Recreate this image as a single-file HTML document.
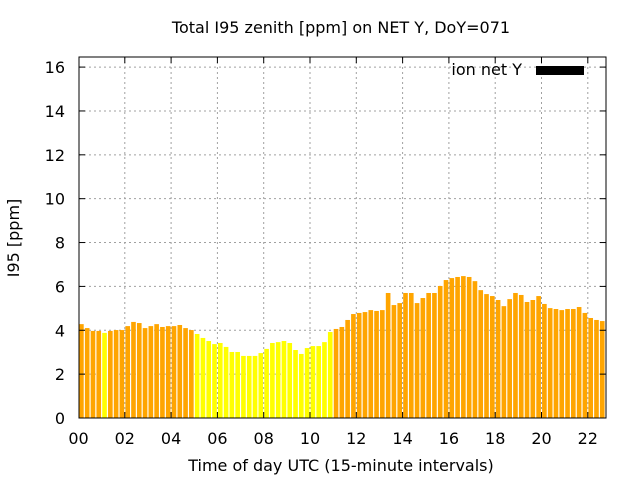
<!DOCTYPE html>
<html><head><meta charset="utf-8"><style>
html,body{margin:0;padding:0;background:#fff}
svg{display:block;font-family:"DejaVu Sans","Liberation Sans",sans-serif}
</style></head><body>
<svg id="chart" width="640" height="480"></svg>
<script>
const values=[4.28,4.10,3.97,3.97,3.88,3.97,4.01,4.01,4.19,4.38,4.33,4.10,4.19,4.28,4.15,4.19,4.19,4.24,4.10,4.01,
3.83,3.65,3.51,3.37,3.42,3.24,3.01,3.01,2.83,2.83,2.83,2.96,3.15,3.42,3.46,3.51,3.42,3.10,2.92,3.19,3.28,3.28,3.46,3.92,
4.06,4.15,4.47,4.74,4.79,4.83,4.92,4.88,4.92,5.70,5.15,5.24,5.70,5.70,5.24,5.47,5.70,5.70,6.02,6.29,6.38,6.43,6.47,6.43,6.24,5.83,
5.65,5.56,5.38,5.10,5.42,5.70,5.61,5.29,5.38,5.56,5.20,5.01,4.97,4.92,4.97,4.97,5.06,4.79,4.56,4.47,4.42,4.33];
const yellowIdx=[4,20,21,22,23,24,25,26,27,28,29,30,31,32,33,34,35,36,37,38,39,40,41,42,43];
const yTicks=[0,2,4,6,8,10,12,14,16];
const xTicks=["00","02","04","06","08","10","12","14","16","18","20","22"];
const L=79,R=606,T=57,B=418,yMax=16.46;
const X0=78.5,PXH=23.15;
const ys=v=>B-(v/yMax)*(B-T);
const xs=h=>X0+h*PXH;
const svg=document.getElementById('chart');
const NS='http://www.w3.org/2000/svg';
function mk(tag,attrs,parent){const e=document.createElementNS(NS,tag);for(const k in attrs)e.setAttribute(k,attrs[k]);(parent||svg).appendChild(e);return e;}
const defs=mk('defs',{});
const cp=mk('clipPath',{id:'plotclip'},defs);
mk('rect',{x:L,y:T,width:R-L,height:B-T},cp);
const grid=mk('g',{});


yTicks.forEach(t=>{if(t>0){mk('line',{x1:L,x2:R,y1:ys(t),y2:ys(t),stroke:'#a0a0a0','stroke-dasharray':'2,3'},grid);}});
xTicks.forEach((t,i)=>{if(i>0){const x=xs(i*2);mk('line',{x1:x,x2:x,y1:T,y2:B,stroke:'#a0a0a0','stroke-dasharray':'2,3'},grid);}});
const bars=mk('g',{'clip-path':'url(#plotclip)'});


const bw=PXH/4*0.8;
values.forEach((v,i)=>{
  const cx=xs(i*0.25+0.125);
  const r=mk('rect',{x:cx-bw/2,y:ys(v),width:bw,height:B-ys(v),fill:yellowIdx.includes(i)?'#ffff00':'#ffa500'},bars);
  
  
});
const fr=mk('rect',{x:L,y:T,width:R-L,height:B-T,fill:'none',stroke:'#000'});


yTicks.forEach(t=>{const y=ys(t);
  mk('line',{x1:L,x2:L+6,y1:y,y2:y,stroke:'#000'});mk('line',{x1:R-6,x2:R,y1:y,y2:y,stroke:'#000'});
  const tx=mk('text',{x:65,y:y+6,'text-anchor':'end','font-size':'16'});tx.textContent=t;
  
  
});
xTicks.forEach((t,i)=>{const x=xs(i*2);
  if(i>0){mk('line',{x1:x,x2:x,y1:B,y2:B-6,stroke:'#000'});mk('line',{x1:x,x2:x,y1:T,y2:T+6,stroke:'#000'});}
  const tx=mk('text',{x:x,y:444,'text-anchor':'middle','font-size':'16'});tx.textContent=t;
  
  
});
</script>
<svg width="640" height="480" style="position:absolute;left:0;top:0">
<text x="341" y="33" text-anchor="middle" font-size="16">Total I95 zenith [ppm] on NET Y, DoY=071</text>
<text x="341" y="471" text-anchor="middle" font-size="16">Time of day UTC (15-minute intervals)</text>
<text transform="translate(19,238) rotate(-90)" text-anchor="middle" font-size="16">I95 [ppm]</text>
<g>
<text x="522" y="75" text-anchor="end" font-size="16">ion net Y</text>
<rect x="536" y="66" width="48" height="9" fill="#000"/>
</g>
</svg>
</body></html>
